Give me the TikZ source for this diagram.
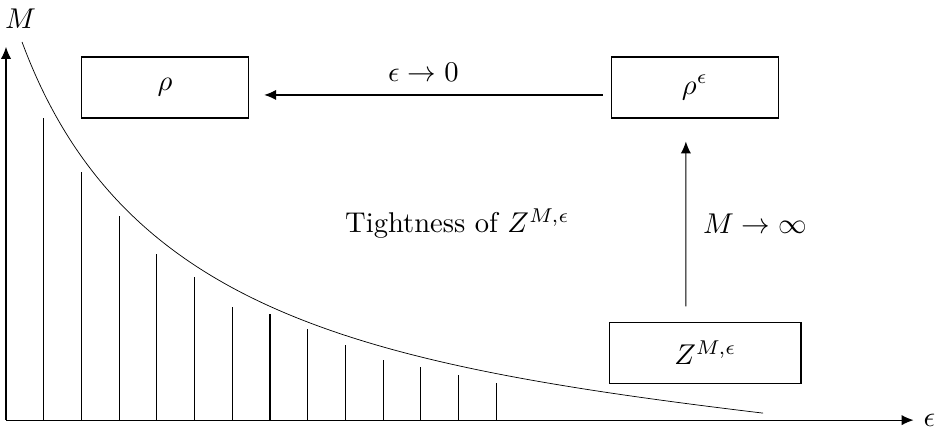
\documentclass[tikz,border=0pt]{standalone}
\usepackage{amsmath,amssymb}
\usepackage{tikz}
\usetikzlibrary{arrows.meta,positioning,calc}
\tikzset{
    limitbox/.style={draw, minimum width=2.05cm, minimum height=0.75cm, inner sep=0pt},
    limarrow/.style={-{Latex[length=4.2pt,width=3.6pt]}},
}
\begin{document}
\begin{tikzpicture}
\useasboundingbox (-0.074,-0.098) rectangle (11.46,5.166);
% axes
\coordinate (O) at (0,0);
\coordinate (xend) at (11.16,0);
\coordinate (yend) at (0,4.59);
\draw[limarrow] (O) -- (xend) node[right] (epslabel) {$\epsilon$};
\draw[limarrow] (O) -- (yend);
\node (Mlabel) at (0.18,4.94) {$M$};

% curve and the bars under it
\draw[line width=0.25pt] (0.197,4.65) .. controls (1.427,1.328) and (4.39,0.677) .. (9.31,0.086);
\foreach \h [count=\i] in {3.71,3.05,2.51,2.04,1.76,1.39,1.30,1.12,0.92,0.74,0.65,0.55,0.46}
    \draw (\i*0.4637,0) -- (\i*0.4637,\h);

% boxes
\node[limitbox] (rho) at (1.956,4.09) {$\rho$};
\node[limitbox] (rhoeps) at (8.47,4.09) {$\rho^{\epsilon}$};
\node[limitbox, minimum width=2.35cm] (zme) at (8.60,0.83) {$Z^{M,\epsilon}$};
\node (tight) at (5.55,2.42) {Tightness of $Z^{M,\epsilon}$};

\draw[limarrow] ([xshift=-2.8pt,yshift=-2.6pt]rhoeps.west) -- ([xshift=5.3pt,yshift=-2.6pt]rho.east)
    node[pos=0.53, above=1pt] (epsto) {$\epsilon\to 0$};
\draw[limarrow] ([xshift=-0.24cm,yshift=5.3pt]zme.north) -- ([xshift=-0.11cm,yshift=-8pt]rhoeps.south)
    node[midway, right=2.5pt] (mtoinf) {$M\to\infty$};
\end{tikzpicture}
\end{document}
